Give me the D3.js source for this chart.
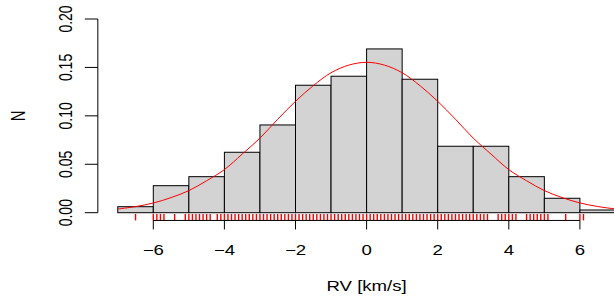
<!DOCTYPE html>
<html>
<head>
<meta charset="utf-8">
<script src="https://cdn.jsdelivr.net/npm/d3@7"></script>
<style>
  body { margin: 0; background: #fff; }
  svg { display: block; }
  text { font-family: "Liberation Sans", Arial, sans-serif; font-size: 14px; fill: #000; }
</style>
</head>
<body>
<svg id="chart" width="614" height="304"></svg>
<script>
// histogram bins (density, bin width 1 km/s)
const binStarts = [-7, -6, -5, -4, -3, -2, -1, 0, 1, 2, 3, 4, 5, 6];
const binDensity = [0.0062, 0.0279, 0.0372, 0.0624, 0.0906, 0.1316, 0.1409,
                    0.1691, 0.1378, 0.0686, 0.0686, 0.0372, 0.0149, 0.0028];

// fitted density curve
const curveX = [-7, -6.5, -6, -5.5, -5, -4.5, -4, -3.5, -3, -2.5, -2, -1.5, -1, -0.5, 0,
                0.5, 1, 1.5, 2, 2.5, 3, 3.5, 4, 4.5, 5, 5.5, 6, 6.5, 7, 7.5];
const curveY = [0.0038, 0.0063, 0.0100, 0.0156, 0.0228, 0.0330, 0.0445, 0.0605, 0.0770,
                0.0965, 0.1150, 0.1312, 0.1445, 0.1524, 0.1553, 0.1524, 0.1445, 0.1312,
                0.1150, 0.0965, 0.0770, 0.0605, 0.0445, 0.0330, 0.0228, 0.0156, 0.0101,
                0.0064, 0.0039, 0.0023];

// rug (observations, rounded to 0.1 km/s)
const rugValues = [-6.5, -6.0, -5.9, -5.8, -5.7, -5.4, -5.1, -5.0, -4.9, -4.8, -4.7, -4.6,
  -4.5, -4.4, -4.2, -4.1, -4.0, -3.9, -3.8, -3.7, -3.6, -3.5, -3.4, -3.3, -3.2, -3.1,
  -3.0, -2.9, -2.8, -2.7, -2.6, -2.5, -2.4, -2.3, -2.2, -2.1, -2.0, -1.9, -1.8, -1.7,
  -1.6, -1.5, -1.4, -1.3, -1.2, -1.1, -1.0, -0.9, -0.8, -0.7, -0.6, -0.5, -0.4, -0.3,
  -0.2, -0.1, 0.0, 0.1, 0.2, 0.3, 0.4, 0.5, 0.6, 0.7, 0.8, 0.9, 1.0, 1.1, 1.2, 1.3,
  1.4, 1.5, 1.6, 1.7, 1.8, 1.9, 2.0, 2.1, 2.2, 2.3, 2.4, 2.5, 2.6, 2.7, 2.8, 2.9, 3.0,
  3.1, 3.2, 3.3, 3.4, 3.7, 3.8, 3.9, 4.0, 4.1, 4.2, 4.5, 4.6, 4.7, 4.8, 4.9, 5.0, 5.1,
  5.6, 6.0, 6.1];

const xTicks = [-6, -4, -2, 0, 2, 4, 6];
const yTicks = [0, 0.05, 0.1, 0.15, 0.2];
const yTickLabels = ["0.00", "0.05", "0.10", "0.15", "0.20"];

const svg = d3.select("#chart");
const stretch = "scale(1.33,1)";

const xScale = d3.scaleLinear().domain([-6, 6]).range([153.3, 579.9]);
const yScale = d3.scaleLinear().domain([0, 0.2]).range([212.7, 19]);
const xLeft = xScale(-7.56);
const yBottom = yScale(-0.008);

// bars
svg.append("g")
  .selectAll("rect")
  .data(binStarts)
  .join("rect")
  .attr("x", d => xScale(d))
  .attr("y", (d, i) => yScale(binDensity[i]))
  .attr("width", d => xScale(d + 1) - xScale(d))
  .attr("height", (d, i) => yScale(0) - yScale(binDensity[i]))
  .attr("fill", "#d3d3d3")
  .attr("stroke", "#000")
  .attr("stroke-width", 1);

// density curve
const line = d3.line()
  .x(d => xScale(d[0]))
  .y(d => yScale(d[1]))
  .curve(d3.curveCatmullRom);

svg.append("path")
  .datum(curveX.map((x, i) => [x, curveY[i]]))
  .attr("d", line)
  .attr("fill", "none")
  .attr("stroke", "#ff0000")
  .attr("stroke-width", 1);

// rug
svg.append("g")
  .selectAll("line")
  .data(rugValues)
  .join("line")
  .attr("x1", d => xScale(d))
  .attr("x2", d => xScale(d))
  .attr("y1", yBottom)
  .attr("y2", yBottom - 6.5)
  .attr("stroke", "#ff0000")
  .attr("stroke-width", 1.4);

// x axis
const xAxis = svg.append("g");
xAxis.append("line")
  .attr("x1", xScale(xTicks[0])).attr("x2", xScale(xTicks[xTicks.length - 1]))
  .attr("y1", yBottom).attr("y2", yBottom)
  .attr("stroke", "#000");
xAxis.selectAll(".tick")
  .data(xTicks)
  .join("line")
  .attr("class", "tick")
  .attr("x1", d => xScale(d)).attr("x2", d => xScale(d))
  .attr("y1", yBottom).attr("y2", yBottom + 9)
  .attr("stroke", "#000");
xAxis.selectAll(".lab")
  .data(xTicks)
  .join("g")
  .attr("class", "lab")
  .attr("transform", d => `translate(${xScale(d)},255) ${stretch}`)
  .append("text")
  .attr("text-anchor", "middle")
  .text(d => d < 0 ? "\u2212" + Math.abs(d) : d);

svg.append("g")
  .attr("transform", `translate(${xScale(0)},291) ${stretch}`)
  .append("text")
  .attr("text-anchor", "middle")
  .text("RV [km/s]");

// y axis
const yAxis = svg.append("g");
yAxis.append("line")
  .attr("x1", xLeft).attr("x2", xLeft)
  .attr("y1", yScale(0)).attr("y2", yScale(0.2))
  .attr("stroke", "#000");
yAxis.selectAll(".tick")
  .data(yTicks)
  .join("line")
  .attr("class", "tick")
  .attr("x1", xLeft).attr("x2", xLeft - 13)
  .attr("y1", d => yScale(d)).attr("y2", d => yScale(d))
  .attr("stroke", "#000");
yAxis.selectAll(".lab")
  .data(yTicks)
  .join("g")
  .attr("class", "lab")
  .attr("transform", d => `translate(71.5,${yScale(d)}) ${stretch} rotate(-90)`)
  .append("text")
  .attr("text-anchor", "middle")
  .text((d, i) => yTickLabels[i]);

svg.append("g")
  .attr("transform", `translate(25,${yScale(0.1)}) ${stretch} rotate(-90)`)
  .append("text")
  .attr("text-anchor", "middle")
  .style("font-size", "15px")
  .text("N");
</script>
</body>
</html>
